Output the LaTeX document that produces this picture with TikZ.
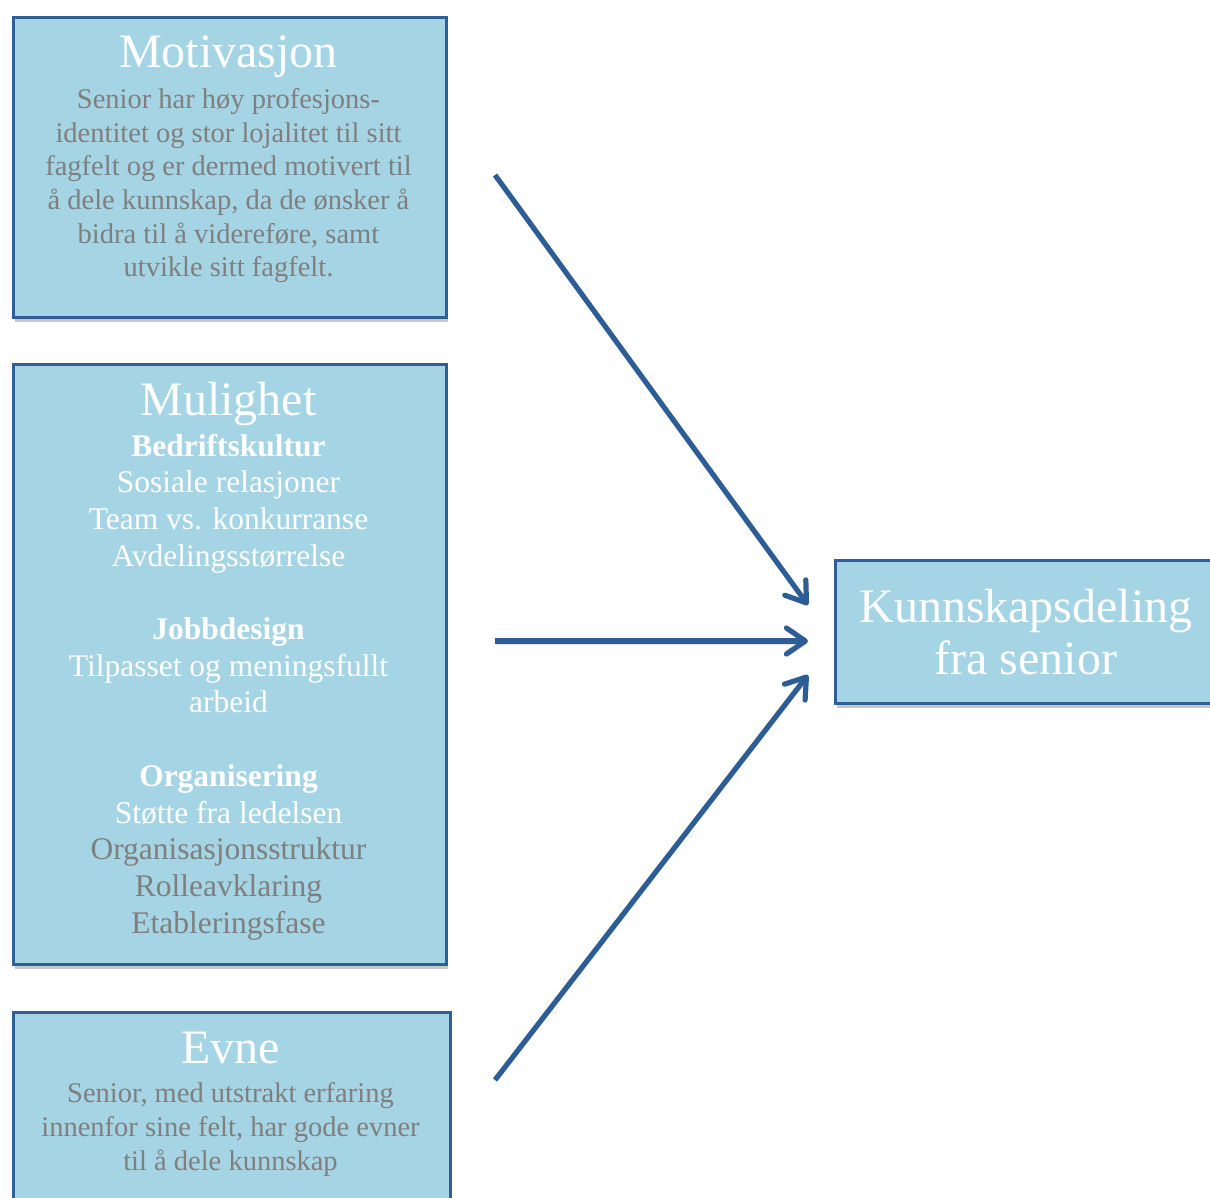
\documentclass[tikz,border=0pt]{standalone}
\usepackage{fontspec}
\setmainfont{Liberation Serif}
\usetikzlibrary{arrows.meta,shadows}
\definecolor{boxfill}{HTML}{A5D5E4}
\definecolor{boxline}{HTML}{2E5F95}
\definecolor{arrowblue}{HTML}{2C5D95}
\definecolor{txtgray}{HTML}{7F7F7F}
\begin{document}
\begin{tikzpicture}[x=1pt,y=-1pt,
  box/.style={draw=boxline, line width=2.8pt, fill=boxfill, inner sep=0pt, anchor=north west,
    drop shadow={shadow xshift=1.5pt, shadow yshift=-4pt, opacity=.22, fill=black}},
  title/.style={text=white, font=\fontsize{48}{52}\selectfont, inner sep=0pt, anchor=base},
  body/.style={align=center, inner sep=0pt, anchor=north, font=\fontsize{28.5}{33.6}\selectfont, text=txtgray},
  flow/.style={draw=arrowblue, line width=5.2pt, -{Straight Barb[length=19pt,width=26pt,round]},
    preaction={draw=black, opacity=.12, transform canvas={xshift=1pt,yshift=-3pt}}}
]
\useasboundingbox (0,0) rectangle (1210,1198);
\clip (0,0) rectangle (1210,1198);
% boxes
\node[box, minimum width=433pt, minimum height=300pt] (mot) at (12.25,16.25) {};
\node[box, minimum width=433pt, minimum height=600pt] (mul) at (12.25,363.25) {};
\node[box, minimum width=437pt, minimum height=240pt] (evn) at (12.25,1011.25) {};
\node[box, minimum width=400pt, minimum height=143pt] (kd) at (834.25,559.25) {};
% Motivasjon
\node[title] (motT) at (228.5,68) {Motivasjon};
\node[body] (motB) at (228.5,88.5) {Senior har høy profesjons-\\identitet og stor lojalitet til sitt\\fagfelt og er dermed motivert til\\å dele kunnskap, da de ønsker å\\bidra til å videreføre, samt\\utvikle sitt fagfelt.};
% Mulighet
\node[title] (mulT) at (228.5,415) {Mulighet};
\node[body, text=white, font=\fontsize{31.5}{36.7}\selectfont] (mulB) at (228.5,433.7) {\textbf{Bedriftskultur}\\Sosiale relasjoner\\Team vs. konkurranse\\Avdelingsstørrelse\\[36.7pt]\textbf{Jobbdesign}\\Tilpasset og meningsfullt\\arbeid\\[36.7pt]\textbf{Organisering}\\Støtte fra ledelsen\\\textcolor{txtgray}{Organisasjonsstruktur}\\\textcolor{txtgray}{Rolleavklaring}\\\textcolor{txtgray}{Etableringsfase}};
% Evne
\node[title] (evnT) at (230.5,1063) {Evne};
\node[body, font=\fontsize{28.5}{34}\selectfont] (evnB) at (230.5,1082.5) {Senior, med utstrakt erfaring\\innenfor sine felt, har gode evner\\til å dele kunnskap};
% Kunnskapsdeling
\node[title, align=center, anchor=north] (kdT) at (1026,589.2) {Kunnskapsdeling\\fra senior};
% arrows
\coordinate (s1) at (495,175);
\coordinate (e1) at (808,605);
\coordinate (s2) at (495,641);
\coordinate (e2) at (808,641);
\coordinate (s3) at (495,1080);
\coordinate (e3) at (808,675);
\draw[flow] (s1) -- (e1);
\draw[flow] (s2) -- (e2);
\draw[flow] (s3) -- (e3);
\end{tikzpicture}
\end{document}
